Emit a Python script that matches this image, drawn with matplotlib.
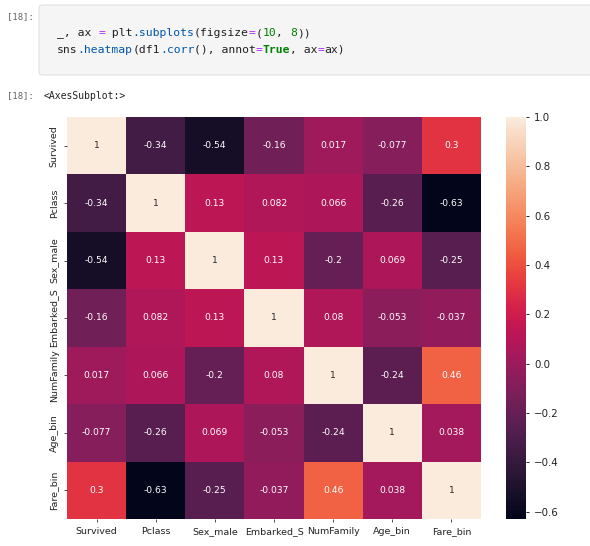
"""
Titanic feature correlation heatmap, drawn as it appears
in a notebook cell (code, output prompt and figure).
"""

import matplotlib

matplotlib.use("Agg")

import matplotlib.pyplot as plt
import numpy as np
import pandas as pd
import seaborn as sns
from matplotlib.patches import FancyBboxPatch


FEATURES = [
    "Survived",
    "Pclass",
    "Sex_male",
    "Embarked_S",
    "NumFamily",
    "Age_bin",
    "Fare_bin",
]

SURVIVED = [1, -0.34, -0.54, -0.16, 0.017, -0.077, 0.3]
PCLASS = [-0.34, 1, 0.13, 0.082, 0.066, -0.26, -0.63]
SEX_MALE = [-0.54, 0.13, 1, 0.13, -0.2, 0.069, -0.25]
EMBARKED_S = [-0.16, 0.082, 0.13, 1, 0.08, -0.053, -0.037]
NUM_FAMILY = [0.017, 0.066, -0.2, 0.08, 1, -0.24, 0.46]
AGE_BIN = [-0.077, -0.26, 0.069, -0.053, -0.24, 1, 0.038]
FARE_BIN = [0.3, -0.63, -0.25, -0.037, 0.46, 0.038, 1]

CBAR_TICKS = [-0.6, -0.4, -0.2, 0.0, 0.2, 0.4, 0.6, 0.8, 1.0]

PROMPT = "[18]:"
OUTPUT_REPR = "<AxesSubplot:>"

# code lines as (text, colour) tokens
CODE_LINES = [
    [
        ("_, ax ", "#212121"),
        ("=", "#aa22ff"),
        (" plt", "#212121"),
        (".subplots", "#0055aa"),
        ("(figsize", "#212121"),
        ("=", "#aa22ff"),
        ("(", "#212121"),
        ("10", "#008000"),
        (", ", "#212121"),
        ("8", "#008000"),
        ("))", "#212121"),
    ],
    [
        ("sns", "#212121"),
        (".heatmap", "#0055aa"),
        ("(df1", "#212121"),
        (".corr", "#0055aa"),
        ("(), annot", "#212121"),
        ("=", "#aa22ff"),
        ("True", "#008000"),
        (", ax", "#212121"),
        ("=", "#aa22ff"),
        ("ax)", "#212121"),
    ],
]

W, H = 590, 546


def px(x, y):
    """
    Convert top-left pixel coordinates to figure fractions.
    """

    return x / W, 1 - y / H


corr = pd.DataFrame(
    np.array(
        [
            SURVIVED,
            PCLASS,
            SEX_MALE,
            EMBARKED_S,
            NUM_FAMILY,
            AGE_BIN,
            FARE_BIN,
        ]
    ),
    index=FEATURES,
    columns=FEATURES,
)

fig = plt.figure(figsize=(W / 100, H / 100), dpi=100)
fig.patch.set_facecolor("white")

# code cell box
box_x, box_y = px(39, 75)
fig.patches.append(
    FancyBboxPatch(
        (box_x, box_y),
        (620 - 39) / W,
        70 / H,
        boxstyle="round,pad=0,rounding_size=0.006",
        transform=fig.transFigure,
        facecolor="#f5f5f5",
        edgecolor="#e0e0e0",
        linewidth=0.8,
    )
)

mono = "DejaVu Sans Mono"
code_size = 8.2
char_w = 0.602 * code_size * 100 / 72

for prompt_y in (17, 96):
    fig.text(
        *px(7, prompt_y),
        PROMPT,
        family=mono,
        fontsize=6.4,
        color="#616161",
        va="center",
    )

for row, tokens in enumerate(CODE_LINES):
    col = 0
    y = 33 + row * 17
    for text, color in tokens:
        fig.text(
            *px(57 + col * char_w, y),
            text,
            family=mono,
            fontsize=code_size,
            color=color,
            va="center",
            fontweight="bold" if text == "True" else "normal",
        )
        col += len(text)

fig.text(
    *px(44, 96),
    OUTPUT_REPR,
    family=mono,
    fontsize=7,
    color="#212121",
    va="center",
)

# heatmap
plt.rcParams["xtick.major.size"] = 2.5
plt.rcParams["ytick.major.size"] = 2.5
plt.rcParams["xtick.major.width"] = 0.6
plt.rcParams["ytick.major.width"] = 0.6

left, top = px(67, 117)
ax = fig.add_axes([left, (H - 519) / H, 414 / W, 402 / H])
cx, _ = px(506, 117)
cax = fig.add_axes([cx, (H - 519) / H, 20 / W, 402 / H])

sns.heatmap(
    corr,
    annot=True,
    ax=ax,
    cbar_ax=cax,
    annot_kws={"fontsize": 6.6},
)

ax.set_xticklabels(FEATURES, rotation=0)
ax.set_yticklabels(FEATURES, rotation=90, va="center")
ax.tick_params(labelsize=6.8, colors="#333333", labelcolor="#222222")
cax.tick_params(labelsize=7.4, labelcolor="#222222")
cax.set_yticks(CBAR_TICKS)

fig.savefig("out.png", dpi=100)
